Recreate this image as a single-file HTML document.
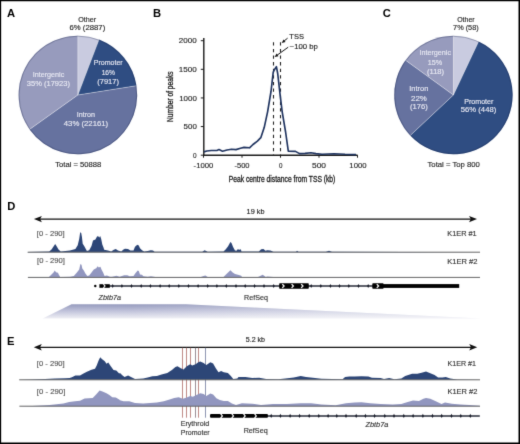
<!DOCTYPE html>
<html><head><meta charset="utf-8"><style>
html,body{margin:0;padding:0;background:#fff;}
body{width:520px;height:444px;overflow:hidden;}
svg{display:block;will-change:transform;font-family:"Liberation Sans", sans-serif;}
</style></head><body>
<svg width="520" height="444" viewBox="0 0 520 444">
<defs><filter id="bl" color-interpolation-filters="sRGB" x="0" y="0" width="520" height="444" filterUnits="userSpaceOnUse"><feConvolveMatrix order="3" kernelMatrix="0.0113 0.0838 0.0113 0.0838 0.6193 0.0838 0.0113 0.0838 0.0113" divisor="1" edgeMode="duplicate" preserveAlpha="true"/></filter></defs>
<g filter="url(#bl)">
<rect x="0" y="0" width="520" height="444" fill="#fff"/>
<text x="7.07" y="17.00" font-size="11.2" fill="#000" stroke="#000" stroke-width="0" font-weight="bold" >A</text>
<path d="M77.85,95.00 L77.85,35.65 A59.35,59.35 0 0 1 99.00,39.55 Z" fill="#c9cbe0"/>
<path d="M77.85,95.00 L99.00,39.55 A59.35,59.35 0 0 1 136.47,85.72 Z" fill="#2f4d82"/>
<path d="M77.85,95.00 L136.47,85.72 A59.35,59.35 0 0 1 29.51,129.43 Z" fill="#66729f"/>
<path d="M77.85,95.00 L29.51,129.43 A59.35,59.35 0 0 1 77.85,35.65 Z" fill="#979bbd"/>
<line x1="77.85" y1="95.00" x2="77.85" y2="35.65" stroke="rgba(255,255,255,0.45)" stroke-width="0.8"/>
<line x1="77.85" y1="95.00" x2="99.00" y2="39.55" stroke="rgba(255,255,255,0.45)" stroke-width="0.8"/>
<line x1="77.85" y1="95.00" x2="136.47" y2="85.72" stroke="rgba(255,255,255,0.45)" stroke-width="0.8"/>
<line x1="77.85" y1="95.00" x2="29.51" y2="129.43" stroke="rgba(255,255,255,0.45)" stroke-width="0.8"/>
<circle cx="77.85" cy="95.0" r="58.85" fill="none" stroke="rgba(15,25,60,0.28)" stroke-width="1"/>
<text x="78.13" y="21.75" font-size="7.5" fill="#262626" stroke="#262626" stroke-width="0.14" textLength="17.94" lengthAdjust="spacingAndGlyphs" >Other</text>
<text x="69.56" y="30.00" font-size="7.5" fill="#262626" stroke="#262626" stroke-width="0.14" textLength="35.68" lengthAdjust="spacingAndGlyphs" >6% (2887)</text>
<text x="93.69" y="65.30" font-size="7.5" fill="#e8e9f3" stroke="#e8e9f3" stroke-width="0.14" textLength="28.99" lengthAdjust="spacingAndGlyphs" >Promoter</text>
<text x="101.65" y="75.30" font-size="7.5" fill="#e8e9f3" stroke="#e8e9f3" stroke-width="0.14" textLength="13.34" lengthAdjust="spacingAndGlyphs" >16%</text>
<text x="97.20" y="83.50" font-size="7.5" fill="#e8e9f3" stroke="#e8e9f3" stroke-width="0.14" textLength="21.81" lengthAdjust="spacingAndGlyphs" >(7917)</text>
<text x="32.81" y="77.40" font-size="7.5" fill="#e8e9f3" stroke="#e8e9f3" stroke-width="0.14" textLength="31.44" lengthAdjust="spacingAndGlyphs" >Intergenic</text>
<text x="26.85" y="85.80" font-size="7.5" fill="#e8e9f3" stroke="#e8e9f3" stroke-width="0.14" textLength="43.06" lengthAdjust="spacingAndGlyphs" >35% (17923)</text>
<text x="76.81" y="117.40" font-size="7.5" fill="#e8e9f3" stroke="#e8e9f3" stroke-width="0.14" textLength="18.22" lengthAdjust="spacingAndGlyphs" >Intron</text>
<text x="63.80" y="126.40" font-size="7.5" fill="#e8e9f3" stroke="#e8e9f3" stroke-width="0.14" textLength="44.33" lengthAdjust="spacingAndGlyphs" >43% (22161)</text>
<text x="55.20" y="166.60" font-size="7.5" fill="#262626" stroke="#262626" stroke-width="0.14" textLength="46.18" lengthAdjust="spacingAndGlyphs" >Total = 50888</text>
<text x="382.80" y="17.10" font-size="11.2" fill="#000" stroke="#000" stroke-width="0" font-weight="bold" >C</text>
<path d="M453.40,95.00 L453.40,35.75 A59.25,59.25 0 0 1 478.63,41.39 Z" fill="#c9cbe0"/>
<path d="M453.40,95.00 L478.63,41.39 A59.25,59.25 0 1 1 410.21,135.56 Z" fill="#2f4d82"/>
<path d="M453.40,95.00 L410.21,135.56 A59.25,59.25 0 0 1 405.47,60.17 Z" fill="#66729f"/>
<path d="M453.40,95.00 L405.47,60.17 A59.25,59.25 0 0 1 453.40,35.75 Z" fill="#979bbd"/>
<line x1="453.40" y1="95.00" x2="453.40" y2="35.75" stroke="rgba(255,255,255,0.45)" stroke-width="0.8"/>
<line x1="453.40" y1="95.00" x2="478.63" y2="41.39" stroke="rgba(255,255,255,0.45)" stroke-width="0.8"/>
<line x1="453.40" y1="95.00" x2="410.21" y2="135.56" stroke="rgba(255,255,255,0.45)" stroke-width="0.8"/>
<line x1="453.40" y1="95.00" x2="405.47" y2="60.17" stroke="rgba(255,255,255,0.45)" stroke-width="0.8"/>
<circle cx="453.4" cy="95.0" r="58.75" fill="none" stroke="rgba(15,25,60,0.28)" stroke-width="1"/>
<text x="457.13" y="21.55" font-size="7.5" fill="#262626" stroke="#262626" stroke-width="0.14" textLength="17.53" lengthAdjust="spacingAndGlyphs" >Other</text>
<text x="453.08" y="30.20" font-size="7.5" fill="#262626" stroke="#262626" stroke-width="0.14" textLength="25.62" lengthAdjust="spacingAndGlyphs" >7% (58)</text>
<text x="419.50" y="55.20" font-size="7.5" fill="#e8e9f3" stroke="#e8e9f3" stroke-width="0.14" textLength="31.54" lengthAdjust="spacingAndGlyphs" >Intergenic</text>
<text x="427.71" y="64.85" font-size="7.5" fill="#e8e9f3" stroke="#e8e9f3" stroke-width="0.14" textLength="14.40" lengthAdjust="spacingAndGlyphs" >15%</text>
<text x="427.00" y="74.00" font-size="7.5" fill="#e8e9f3" stroke="#e8e9f3" stroke-width="0.14" textLength="17.05" lengthAdjust="spacingAndGlyphs" >(118)</text>
<text x="409.27" y="90.95" font-size="7.5" fill="#e8e9f3" stroke="#e8e9f3" stroke-width="0.14" textLength="19.18" lengthAdjust="spacingAndGlyphs" >Intron</text>
<text x="411.06" y="100.95" font-size="7.5" fill="#e8e9f3" stroke="#e8e9f3" stroke-width="0.14" textLength="15.78" lengthAdjust="spacingAndGlyphs" >22%</text>
<text x="409.99" y="109.20" font-size="7.5" fill="#e8e9f3" stroke="#e8e9f3" stroke-width="0.14" textLength="17.85" lengthAdjust="spacingAndGlyphs" >(176)</text>
<text x="464.18" y="103.95" font-size="7.5" fill="#e8e9f3" stroke="#e8e9f3" stroke-width="0.14" textLength="29.19" lengthAdjust="spacingAndGlyphs" >Promoter</text>
<text x="460.84" y="112.20" font-size="7.5" fill="#e8e9f3" stroke="#e8e9f3" stroke-width="0.14" textLength="35.40" lengthAdjust="spacingAndGlyphs" >56% (448)</text>
<text x="427.50" y="166.50" font-size="7.5" fill="#262626" stroke="#262626" stroke-width="0.14" textLength="52.34" lengthAdjust="spacingAndGlyphs" >Total = Top 800</text>
<text x="153.02" y="17.10" font-size="11.2" fill="#000" stroke="#000" stroke-width="0" font-weight="bold" >B</text>
<line x1="203.8" y1="38" x2="203.8" y2="155.89999999999998" stroke="#1a1a1a" stroke-width="1.4"/>
<line x1="203.10000000000002" y1="155.2" x2="357.6" y2="155.2" stroke="#1a1a1a" stroke-width="1.4"/>
<line x1="200.8" y1="155.20" x2="203.8" y2="155.20" stroke="#1a1a1a" stroke-width="1"/>
<line x1="200.8" y1="126.57" x2="203.8" y2="126.57" stroke="#1a1a1a" stroke-width="1"/>
<line x1="200.8" y1="97.95" x2="203.8" y2="97.95" stroke="#1a1a1a" stroke-width="1"/>
<line x1="200.8" y1="69.32" x2="203.8" y2="69.32" stroke="#1a1a1a" stroke-width="1"/>
<line x1="200.8" y1="40.70" x2="203.8" y2="40.70" stroke="#1a1a1a" stroke-width="1"/>
<line x1="203.50" y1="155.2" x2="203.50" y2="157.7" stroke="#1a1a1a" stroke-width="1"/>
<line x1="242.00" y1="155.2" x2="242.00" y2="157.7" stroke="#1a1a1a" stroke-width="1"/>
<line x1="280.50" y1="155.2" x2="280.50" y2="157.7" stroke="#1a1a1a" stroke-width="1"/>
<line x1="319.00" y1="155.2" x2="319.00" y2="157.7" stroke="#1a1a1a" stroke-width="1"/>
<line x1="357.50" y1="155.2" x2="357.50" y2="157.7" stroke="#1a1a1a" stroke-width="1"/>
<text x="178.85" y="43.30" font-size="7.8" fill="#262626" stroke="#262626" stroke-width="0.14" textLength="17.88" lengthAdjust="spacingAndGlyphs" >2000</text>
<text x="178.74" y="71.92" font-size="7.8" fill="#262626" stroke="#262626" stroke-width="0.14" textLength="17.99" lengthAdjust="spacingAndGlyphs" >1500</text>
<text x="179.15" y="100.55" font-size="7.8" fill="#262626" stroke="#262626" stroke-width="0.14" textLength="17.67" lengthAdjust="spacingAndGlyphs" >1000</text>
<text x="183.63" y="129.17" font-size="7.8" fill="#262626" stroke="#262626" stroke-width="0.14" textLength="13.22" lengthAdjust="spacingAndGlyphs" >500</text>
<text x="193.09" y="157.80" font-size="7.8" fill="#262626" stroke="#262626" stroke-width="0.14" textLength="3.59" lengthAdjust="spacingAndGlyphs" >0</text>
<text x="193.60" y="167.90" font-size="7.8" fill="#262626" stroke="#262626" stroke-width="0.14" textLength="19.74" lengthAdjust="spacingAndGlyphs" >-1000</text>
<text x="234.51" y="167.90" font-size="7.8" fill="#262626" stroke="#262626" stroke-width="0.14" textLength="15.06" lengthAdjust="spacingAndGlyphs" >-500</text>
<text x="278.90" y="167.90" font-size="7.8" fill="#262626" stroke="#262626" stroke-width="0.14" textLength="3.48" lengthAdjust="spacingAndGlyphs" >0</text>
<text x="312.01" y="167.90" font-size="7.8" fill="#262626" stroke="#262626" stroke-width="0.14" textLength="14.06" lengthAdjust="spacingAndGlyphs" >500</text>
<text x="349.37" y="167.90" font-size="7.8" fill="#262626" stroke="#262626" stroke-width="0.14" textLength="17.25" lengthAdjust="spacingAndGlyphs" >1000</text>
<text x="228.71" y="182.00" font-size="8.6" fill="#1a1a1a" stroke="#1a1a1a" stroke-width="0.3" textLength="106.66" lengthAdjust="spacingAndGlyphs" >Peak centre distance from TSS (kb)</text>
<text transform="translate(172.8,96.7) rotate(-90)" x="0" y="0" font-size="8.6" fill="#1a1a1a" stroke="#1a1a1a" stroke-width="0.3" text-anchor="middle" textLength="50.5" lengthAdjust="spacingAndGlyphs">Number of peaks</text>
<line x1="273.5" y1="42.3" x2="273.5" y2="155.2" stroke="#222" stroke-width="1.1" stroke-dasharray="3.3,3.3"/>
<line x1="280.5" y1="42.3" x2="280.5" y2="155.2" stroke="#222" stroke-width="1.1" stroke-dasharray="3.3,3.3"/>
<path d="M204.0,151.9 L206.8,151.0 L211.3,150.5 L216.9,150.5 L219.0,149.6 L222.5,151.2 L227.0,150.0 L231.5,149.2 L236.0,149.6 L240.5,148.3 L244.0,147.4 L249.5,147.8 L253.0,144.5 L257.4,141.1 L260.8,137.7 L264.2,127.6 L267.6,111.8 L271.0,91.5 L273.2,72.4 L274.1,70.3 L276.4,66.6 L277.7,73.5 L280.0,93.8 L282.2,111.8 L285.6,132.0 L288.3,151.2 L295.5,151.4 L299.5,153.6 L305.0,153.4 L311.0,152.8 L316.0,153.6 L322.0,154.2 L334.0,153.7 L345.0,154.3 L356.0,154.6" fill="none" stroke="#1f335f" stroke-width="1.65" stroke-linejoin="round"/>
<line x1="287.6" y1="38.2" x2="284.12" y2="40.97" stroke="#111" stroke-width="1.0"/>
<path d="M281.70,42.90 L283.52,39.41 L285.51,41.91 Z" fill="#111"/>
<line x1="288.2" y1="47.2" x2="277.12" y2="55.19" stroke="#111" stroke-width="1.0"/>
<path d="M274.60,57.00 L276.59,53.60 L278.46,56.19 Z" fill="#111"/>
<text x="289.30" y="39.35" font-size="7.5" fill="#222" stroke="#222" stroke-width="0.14" textLength="14.59" lengthAdjust="spacingAndGlyphs" >TSS</text>
<text x="289.60" y="49.00" font-size="7.5" fill="#222" stroke="#222" stroke-width="0.14" textLength="28.28" lengthAdjust="spacingAndGlyphs" >~100 bp</text>
<text x="7.22" y="210.10" font-size="11.2" fill="#000" stroke="#000" stroke-width="0" font-weight="bold" >D</text>
<line x1="38.9" y1="219.1" x2="472.0" y2="219.1" stroke="#111" stroke-width="1.3"/>
<path d="M33.9,219.1 L41.9,215.9 L40.1,219.1 L41.9,222.29999999999998 Z" fill="#111"/>
<path d="M477.0,219.1 L469.0,215.9 L470.8,219.1 L469.0,222.29999999999998 Z" fill="#111"/>
<text x="246.60" y="213.65" font-size="7.5" fill="#222" stroke="#222" stroke-width="0.14" textLength="17.85" lengthAdjust="spacingAndGlyphs" >19 kb</text>
<text x="36.82" y="236.00" font-size="7.5" fill="#555" stroke="#555" stroke-width="0.14" textLength="27.89" lengthAdjust="spacingAndGlyphs" >[0 - 290]</text>
<text x="447.26" y="236.05" font-size="7.5" fill="#333" stroke="#333" stroke-width="0.14" textLength="29.44" lengthAdjust="spacingAndGlyphs" >K1ER #1</text>
<text x="37.02" y="263.20" font-size="7.5" fill="#555" stroke="#555" stroke-width="0.14" textLength="27.89" lengthAdjust="spacingAndGlyphs" >[0 - 290]</text>
<text x="447.24" y="263.75" font-size="7.5" fill="#333" stroke="#333" stroke-width="0.14" textLength="30.30" lengthAdjust="spacingAndGlyphs" >K1ER #2</text>
<path d="M27.7,252.2 L27.7,251.9 L49.2,251.6 L51.5,249.5 L53.5,246.5 L55.2,243.9 L56.8,246.5 L58.5,249.5 L60.8,251.5 L70.0,250.6 L75.4,249.0 L77.7,245.2 L79.2,239.0 L80.2,232.2 L81.2,233.0 L81.9,236.8 L82.7,243.7 L84.2,246.0 L85.8,249.0 L86.9,251.0 L89.2,250.2 L91.5,246.0 L93.0,240.6 L95.4,239.5 L96.9,236.8 L98.0,236.0 L99.2,237.5 L100.2,236.0 L101.2,239.0 L102.3,244.5 L103.5,247.5 L104.2,249.8 L108.0,250.6 L111.2,251.4 L113.8,249.8 L115.8,249.0 L118.0,250.6 L121.2,251.4 L123.5,249.5 L125.0,248.7 L128.0,249.0 L130.4,250.6 L133.5,250.6 L135.0,246.8 L137.3,244.8 L138.8,245.6 L140.0,248.3 L142.0,250.2 L144.2,251.4 L147.7,251.0 L150.8,250.2 L153.0,250.6 L154.6,251.8 L202.3,251.8 L204.6,250.2 L207.7,251.8 L223.5,251.5 L225.8,249.2 L228.1,246.2 L230.4,241.9 L231.5,243.1 L233.1,246.9 L235.0,250.4 L236.5,250.8 L237.7,249.2 L239.6,249.8 L240.8,249.2 L241.5,251.5 L258.8,251.5 L261.2,249.2 L263.5,249.1 L265.4,250.8 L267.3,250.2 L270.4,250.4 L273.5,251.7 L296.0,251.7 L297.0,250.8 L298.5,251.7 L325.8,251.7 L329.0,250.7 L332.0,251.7 L480,252.2 Z" fill="#2d4677"/>
<line x1="27.7" y1="252.2" x2="480" y2="252.2" stroke="#666" stroke-width="1"/>
<path d="M27.9,277.4 L27.9,277.2 L48.6,277.2 L51.0,275.0 L53.5,272.5 L54.8,270.5 L56.0,272.2 L57.9,272.8 L59.0,275.0 L60.2,277.0 L70.0,276.7 L73.8,275.9 L76.9,272.5 L79.2,269.4 L80.4,264.0 L81.5,264.8 L82.3,268.6 L83.8,270.5 L85.4,273.6 L87.3,275.9 L89.2,275.5 L91.5,272.5 L93.8,269.4 L96.2,268.2 L97.7,266.3 L98.8,267.5 L100.4,266.7 L101.5,269.4 L103.1,272.5 L104.6,275.9 L106.9,275.5 L110.0,276.7 L112.0,276.7 L116.5,275.7 L119.6,276.7 L124.2,275.2 L127.3,275.2 L129.6,276.3 L133.5,275.9 L135.4,273.2 L137.7,270.5 L138.8,270.9 L140.0,274.4 L141.9,274.8 L143.5,276.3 L147.7,276.8 L151.0,276.2 L155.4,277.0 L200.8,277.0 L203.5,276.0 L205.4,275.5 L207.7,277.0 L223.5,277.0 L226.5,274.0 L230.4,270.2 L232.7,272.5 L235.0,274.0 L238.0,274.8 L241.2,275.8 L242.0,277.0 L258.0,277.0 L262.7,274.8 L265.8,277.0 L267.3,276.5 L273.5,277.0 L480,277.4 Z" fill="#9196bf"/>
<line x1="27.9" y1="277.4" x2="480" y2="277.4" stroke="#666" stroke-width="1"/>
<line x1="109" y1="286.0" x2="459" y2="286.0" stroke="#272b38" stroke-width="1.5"/>
<path d="M111.60000000000001,286.0 L112.7,283.9 L113.8,286.0 L112.7,288.1 Z" fill="#1c1f2c"/>
<path d="M120.80000000000001,286.0 L121.9,283.9 L123.0,286.0 L121.9,288.1 Z" fill="#1c1f2c"/>
<path d="M130.4,286.0 L131.5,283.9 L132.6,286.0 L131.5,288.1 Z" fill="#1c1f2c"/>
<path d="M140.1,286.0 L141.2,283.9 L142.29999999999998,286.0 L141.2,288.1 Z" fill="#1c1f2c"/>
<path d="M149.3,286.0 L150.4,283.9 L151.5,286.0 L150.4,288.1 Z" fill="#1c1f2c"/>
<path d="M159.0,286.0 L160.1,283.9 L161.2,286.0 L160.1,288.1 Z" fill="#1c1f2c"/>
<path d="M168.1,286.0 L169.2,283.9 L170.29999999999998,286.0 L169.2,288.1 Z" fill="#1c1f2c"/>
<path d="M177.70000000000002,286.0 L178.8,283.9 L179.9,286.0 L178.8,288.1 Z" fill="#1c1f2c"/>
<path d="M187.4,286.0 L188.5,283.9 L189.6,286.0 L188.5,288.1 Z" fill="#1c1f2c"/>
<path d="M197.0,286.0 L198.1,283.9 L199.2,286.0 L198.1,288.1 Z" fill="#1c1f2c"/>
<path d="M206.6,286.0 L207.7,283.9 L208.79999999999998,286.0 L207.7,288.1 Z" fill="#1c1f2c"/>
<path d="M215.8,286.0 L216.9,283.9 L218.0,286.0 L216.9,288.1 Z" fill="#1c1f2c"/>
<path d="M225.20000000000002,286.0 L226.3,283.9 L227.4,286.0 L226.3,288.1 Z" fill="#1c1f2c"/>
<path d="M234.9,286.0 L236,283.9 L237.1,286.0 L236,288.1 Z" fill="#1c1f2c"/>
<path d="M244.1,286.0 L245.2,283.9 L246.29999999999998,286.0 L245.2,288.1 Z" fill="#1c1f2c"/>
<path d="M253.5,286.0 L254.6,283.9 L255.7,286.0 L254.6,288.1 Z" fill="#1c1f2c"/>
<path d="M262.9,286.0 L264,283.9 L265.1,286.0 L264,288.1 Z" fill="#1c1f2c"/>
<path d="M272.59999999999997,286.0 L273.7,283.9 L274.8,286.0 L273.7,288.1 Z" fill="#1c1f2c"/>
<path d="M310.09999999999997,286.0 L311.2,283.9 L312.3,286.0 L311.2,288.1 Z" fill="#1c1f2c"/>
<path d="M319.7,286.0 L320.8,283.9 L321.90000000000003,286.0 L320.8,288.1 Z" fill="#1c1f2c"/>
<path d="M329.29999999999995,286.0 L330.4,283.9 L331.5,286.0 L330.4,288.1 Z" fill="#1c1f2c"/>
<path d="M338.4,286.0 L339.5,283.9 L340.6,286.0 L339.5,288.1 Z" fill="#1c1f2c"/>
<path d="M347.7,286.0 L348.8,283.9 L349.90000000000003,286.0 L348.8,288.1 Z" fill="#1c1f2c"/>
<path d="M357.4,286.0 L358.5,283.9 L359.6,286.0 L358.5,288.1 Z" fill="#1c1f2c"/>
<path d="M367.09999999999997,286.0 L368.2,283.9 L369.3,286.0 L368.2,288.1 Z" fill="#1c1f2c"/>
<circle cx="95.3" cy="286.0" r="1.2" fill="#000"/>
<rect x="99.4" y="284.2" width="10.4" height="3.6" fill="#000"/>
<path d="M103.40,284.10 L105.00,286.00 L103.40,287.90" fill="none" stroke="#fff" stroke-width="1.1"/>
<rect x="279.2" y="283.3" width="29.6" height="5.4" rx="0.8" fill="#000"/>
<path d="M282.30,284.10 L284.10,286.00 L282.30,287.90" fill="none" stroke="#fff" stroke-width="1.3"/>
<path d="M291.60,284.10 L293.40,286.00 L291.60,287.90" fill="none" stroke="#fff" stroke-width="1.3"/>
<path d="M301.20,284.10 L303.00,286.00 L301.20,287.90" fill="none" stroke="#fff" stroke-width="1.3"/>
<rect x="372.3" y="283.3" width="11.3" height="5.4" rx="0.8" fill="#000"/>
<path d="M376.80,284.10 L378.60,286.00 L376.80,287.90" fill="none" stroke="#fff" stroke-width="1.3"/>
<rect x="383" y="284.1" width="76.2" height="3.8" fill="#000"/>
<text x="98.59" y="299.70" font-size="7.5" fill="#333" stroke="#333" stroke-width="0.14" font-style="italic" textLength="22.43" lengthAdjust="spacingAndGlyphs" >Zbtb7a</text>
<text x="244.08" y="300.00" font-size="7.5" fill="#333" stroke="#333" stroke-width="0.14" textLength="23.84" lengthAdjust="spacingAndGlyphs" >RefSeq</text>
<defs><linearGradient id="wg" x1="0" y1="0" x2="0" y2="1"><stop offset="0" stop-color="#959abd"/><stop offset="0.5" stop-color="#c3c5dc"/><stop offset="1" stop-color="#f0f0f5"/></linearGradient></defs>
<defs><linearGradient id="wh" gradientUnits="userSpaceOnUse" x1="130" y1="0" x2="330" y2="0"><stop offset="0" stop-color="#fff" stop-opacity="0"/><stop offset="1" stop-color="#fff" stop-opacity="0.35"/></linearGradient></defs>
<path d="M42.7,318.4 L71.5,304.2 L186,304.2 L481,318.6 Z" fill="url(#wg)"/>
<path d="M42.7,318.4 L71.5,304.2 L186,304.2 L481,318.6 Z" fill="url(#wh)"/>
<text x="7.02" y="345.00" font-size="11.2" fill="#000" stroke="#000" stroke-width="0" font-weight="bold" >E</text>
<line x1="38.8" y1="347.3" x2="472.2" y2="347.3" stroke="#111" stroke-width="1.3"/>
<path d="M33.8,347.3 L41.8,344.1 L40.0,347.3 L41.8,350.5 Z" fill="#111"/>
<path d="M477.2,347.3 L469.2,344.1 L471.0,347.3 L469.2,350.5 Z" fill="#111"/>
<text x="245.77" y="342.05" font-size="7.5" fill="#222" stroke="#222" stroke-width="0.14" textLength="19.26" lengthAdjust="spacingAndGlyphs" >5.2 kb</text>
<text x="36.82" y="366.00" font-size="7.5" fill="#555" stroke="#555" stroke-width="0.14" textLength="27.89" lengthAdjust="spacingAndGlyphs" >[0 - 290]</text>
<text x="447.48" y="366.35" font-size="7.5" fill="#333" stroke="#333" stroke-width="0.14" textLength="28.51" lengthAdjust="spacingAndGlyphs" >K1ER #1</text>
<text x="36.81" y="393.50" font-size="7.5" fill="#555" stroke="#555" stroke-width="0.14" textLength="28.52" lengthAdjust="spacingAndGlyphs" >[0 - 290]</text>
<text x="447.45" y="394.05" font-size="7.5" fill="#333" stroke="#333" stroke-width="0.14" textLength="29.99" lengthAdjust="spacingAndGlyphs" >K1ER #2</text>
<line x1="182.5" y1="347.8" x2="182.5" y2="417.7" stroke="#c08c88" stroke-width="1"/>
<line x1="186.5" y1="347.8" x2="186.5" y2="417.7" stroke="#c08c88" stroke-width="1"/>
<line x1="190.5" y1="347.8" x2="190.5" y2="417.7" stroke="#c08c88" stroke-width="1"/>
<line x1="195.5" y1="347.8" x2="195.5" y2="417.7" stroke="#9a8e96" stroke-width="1"/>
<line x1="198.5" y1="347.8" x2="198.5" y2="417.7" stroke="#c08c88" stroke-width="1"/>
<line x1="205.5" y1="347.8" x2="205.5" y2="417.7" stroke="#8e96b2" stroke-width="1"/>
<path d="M19.2,379.8 L19.2,379.8 L31.0,379.5 L45.0,378.9 L55.0,378.5 L65.0,378.2 L69.6,377.9 L71.9,377.3 L75.4,375.5 L80.0,375.5 L83.5,373.5 L86.9,371.7 L91.5,369.8 L95.0,368.8 L96.7,365.4 L98.5,360.8 L100.2,357.3 L101.9,359.0 L104.8,361.3 L106.5,363.7 L108.3,362.5 L110.6,366.0 L113.5,370.0 L116.3,370.6 L119.2,373.5 L120.0,372.9 L122.3,375.2 L124.6,376.9 L128.1,375.5 L131.0,376.9 L135.0,379.0 L143.1,378.6 L147.7,377.5 L152.3,376.3 L156.9,376.1 L161.5,374.6 L167.3,372.9 L171.9,370.0 L175.4,367.1 L177.5,366.3 L180.8,368.3 L183.5,369.6 L186.8,366.2 L190.2,364.2 L192.2,365.6 L195.6,364.2 L198.3,362.2 L200.3,361.5 L203.6,362.9 L206.3,364.9 L210.4,362.2 L213.1,363.6 L215.8,368.3 L218.5,372.3 L221.1,371.0 L223.8,372.3 L227.9,373.0 L230.6,375.7 L233.3,379.0 L237.3,378.4 L238.5,377.1 L245.4,377.1 L252.3,378.0 L259.2,377.8 L266.1,378.9 L278.3,379.2 L285.2,378.4 L293.8,377.5 L300.7,376.1 L306.0,377.1 L312.9,377.8 L321.5,378.7 L342.5,379.2 L345.1,377.1 L349.4,376.6 L354.6,376.6 L361.5,376.3 L368.4,376.6 L371.9,377.8 L380.6,378.0 L384.0,378.9 L389.2,378.0 L394.4,379.2 L401.3,378.4 L405.2,376.1 L412.1,373.7 L417.3,373.7 L421.6,372.8 L426.0,371.4 L430.3,373.2 L434.6,374.9 L438.1,377.5 L442.4,377.5 L445.8,377.1 L450.2,378.4 L457.1,379.6 L480,379.8 Z" fill="#2d4677"/>
<line x1="19.2" y1="379.8" x2="480" y2="379.8" stroke="#666" stroke-width="1"/>
<path d="M19.4,406.2 L19.4,406.3 L32.3,406.0 L49.6,405.1 L63.4,403.6 L69.2,401.9 L75.0,401.3 L80.0,400.8 L84.6,398.5 L92.7,397.9 L96.1,394.4 L99.6,390.6 L102.5,391.5 L106.5,393.3 L109.4,395.0 L112.3,397.3 L115.8,397.5 L119.2,399.6 L120.0,400.2 L123.5,401.3 L129.2,401.3 L135.0,403.1 L143.1,403.6 L150.0,403.1 L156.9,402.5 L163.8,401.3 L169.6,399.6 L174.2,397.9 L178.7,397.2 L182.8,398.8 L186.8,397.5 L190.2,395.9 L192.9,396.8 L196.9,394.8 L200.3,393.2 L203.6,394.1 L206.3,395.9 L210.4,393.5 L213.1,394.5 L216.4,398.2 L219.8,399.9 L223.8,400.9 L227.9,400.9 L231.9,403.6 L236.0,404.9 L241.9,403.2 L252.3,403.7 L261.0,404.9 L273.0,404.0 L286.9,404.0 L300.7,403.2 L311.1,403.2 L321.5,404.4 L335.6,405.2 L346.0,403.2 L354.6,402.6 L361.5,402.3 L370.2,403.2 L380.6,404.0 L392.7,404.4 L401.3,404.0 L406.9,402.3 L413.0,400.6 L419.0,400.9 L423.4,398.8 L426.0,398.0 L430.3,398.8 L436.3,401.4 L441.5,404.0 L445.0,402.6 L451.9,403.7 L460.6,404.4 L469.2,404.9 L479.6,405.8 L480,406.2 Z" fill="#9196bf"/>
<line x1="19.4" y1="406.2" x2="480" y2="406.2" stroke="#666" stroke-width="1"/>
<line x1="210" y1="415.9" x2="479.8" y2="415.9" stroke="#272b38" stroke-width="1.5"/>
<path d="M270.09999999999997,415.9 L271.2,413.79999999999995 L272.3,415.9 L271.2,418.0 Z" fill="#1c1f2c"/>
<path d="M279.29999999999995,415.9 L280.4,413.79999999999995 L281.5,415.9 L280.4,418.0 Z" fill="#1c1f2c"/>
<path d="M289.0,415.9 L290.1,413.79999999999995 L291.20000000000005,415.9 L290.1,418.0 Z" fill="#1c1f2c"/>
<path d="M298.5,415.9 L299.6,413.79999999999995 L300.70000000000005,415.9 L299.6,418.0 Z" fill="#1c1f2c"/>
<path d="M308.09999999999997,415.9 L309.2,413.79999999999995 L310.3,415.9 L309.2,418.0 Z" fill="#1c1f2c"/>
<path d="M317.7,415.9 L318.8,413.79999999999995 L319.90000000000003,415.9 L318.8,418.0 Z" fill="#1c1f2c"/>
<path d="M327.0,415.9 L328.1,413.79999999999995 L329.20000000000005,415.9 L328.1,418.0 Z" fill="#1c1f2c"/>
<path d="M335.7,415.9 L336.8,413.79999999999995 L337.90000000000003,415.9 L336.8,418.0 Z" fill="#1c1f2c"/>
<path d="M344.9,415.9 L346,413.79999999999995 L347.1,415.9 L346,418.0 Z" fill="#1c1f2c"/>
<path d="M355.09999999999997,415.9 L356.2,413.79999999999995 L357.3,415.9 L356.2,418.0 Z" fill="#1c1f2c"/>
<path d="M364.29999999999995,415.9 L365.4,413.79999999999995 L366.5,415.9 L365.4,418.0 Z" fill="#1c1f2c"/>
<path d="M373.5,415.9 L374.6,413.79999999999995 L375.70000000000005,415.9 L374.6,418.0 Z" fill="#1c1f2c"/>
<path d="M383.7,415.9 L384.8,413.79999999999995 L385.90000000000003,415.9 L384.8,418.0 Z" fill="#1c1f2c"/>
<path d="M392.9,415.9 L394,413.79999999999995 L395.1,415.9 L394,418.0 Z" fill="#1c1f2c"/>
<path d="M402.7,415.9 L403.8,413.79999999999995 L404.90000000000003,415.9 L403.8,418.0 Z" fill="#1c1f2c"/>
<path d="M412.0,415.9 L413.1,413.79999999999995 L414.20000000000005,415.9 L413.1,418.0 Z" fill="#1c1f2c"/>
<path d="M421.79999999999995,415.9 L422.9,413.79999999999995 L424.0,415.9 L422.9,418.0 Z" fill="#1c1f2c"/>
<path d="M431.4,415.9 L432.5,413.79999999999995 L433.6,415.9 L432.5,418.0 Z" fill="#1c1f2c"/>
<path d="M440.59999999999997,415.9 L441.7,413.79999999999995 L442.8,415.9 L441.7,418.0 Z" fill="#1c1f2c"/>
<path d="M450.4,415.9 L451.5,413.79999999999995 L452.6,415.9 L451.5,418.0 Z" fill="#1c1f2c"/>
<path d="M459.7,415.9 L460.8,413.79999999999995 L461.90000000000003,415.9 L460.8,418.0 Z" fill="#1c1f2c"/>
<path d="M469.2,415.9 L470.3,413.79999999999995 L471.40000000000003,415.9 L470.3,418.0 Z" fill="#1c1f2c"/>
<rect x="210.1" y="414.09999999999997" width="57.8" height="3.6" rx="0.8" fill="#000"/>
<path d="M220.60,413.60 L222.40,415.90 L220.60,418.20" fill="none" stroke="#fff" stroke-width="1.2"/>
<path d="M231.70,413.60 L233.50,415.90 L231.70,418.20" fill="none" stroke="#fff" stroke-width="1.2"/>
<path d="M243.40,413.60 L245.20,415.90 L243.40,418.20" fill="none" stroke="#fff" stroke-width="1.2"/>
<path d="M254.50,413.60 L256.30,415.90 L254.50,418.20" fill="none" stroke="#fff" stroke-width="1.2"/>
<text x="180.68" y="425.60" font-size="7.5" fill="#333" stroke="#333" stroke-width="0.14" textLength="28.55" lengthAdjust="spacingAndGlyphs" >Erythroid</text>
<text x="180.69" y="434.95" font-size="7.5" fill="#333" stroke="#333" stroke-width="0.14" textLength="28.99" lengthAdjust="spacingAndGlyphs" >Promoter</text>
<text x="243.67" y="433.20" font-size="7.5" fill="#333" stroke="#333" stroke-width="0.14" textLength="24.05" lengthAdjust="spacingAndGlyphs" >RefSeq</text>
<text x="365.40" y="427.00" font-size="7.5" fill="#333" stroke="#333" stroke-width="0.14" font-style="italic" textLength="22.94" lengthAdjust="spacingAndGlyphs" >Zbtb7a</text>
<rect x="0" y="0" width="1.15" height="444" fill="#000"/><rect x="0" y="0" width="520" height="1.25" fill="#000"/><rect x="518.5" y="0" width="1.5" height="444" fill="#000"/><rect x="0" y="442.5" width="520" height="1.5" fill="#000"/>
</g>
</svg>
</body></html>
